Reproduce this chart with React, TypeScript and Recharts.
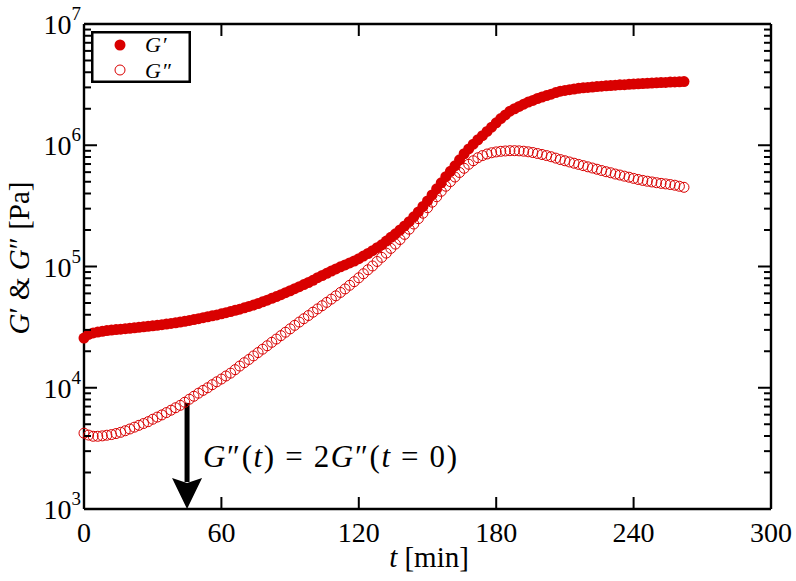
import { Legend, ReferenceLine, Scatter, ScatterChart, XAxis, YAxis } from "recharts";

const RED = "#d90000";
const INK = "#000";
const SERIF = '"Liberation Serif", "Times New Roman", serif';

// plot frame (px)
const PLOT_LEFT = 84;
const PLOT_RIGHT = 771;
const PLOT_TOP = 24;
const PLOT_BOTTOM = 509;

// time [min]
const TIMES = [
  0, 2, 4, 6, 8, 10, 12, 14, 16, 18,
  20, 22, 24, 26, 28, 30, 32, 34, 36, 38,
  40, 42, 44, 46, 48, 50, 52, 54, 56, 58,
  60, 62, 64, 66, 68, 70, 72, 74, 76, 78,
  80, 82, 84, 86, 88, 90, 92, 94, 96, 98,
  100, 102, 104, 106, 108, 110, 112, 114, 116, 118,
  120, 122, 124, 126, 128, 130, 132, 134, 136, 138,
  140, 142, 144, 146, 148, 150, 152, 154, 156, 158,
  160, 162, 164, 166, 168, 170, 172, 174, 176, 178,
  180, 182, 184, 186, 188, 190, 192, 194, 196, 198,
  200, 202, 204, 206, 208, 210, 212, 214, 216, 218,
  220, 222, 224, 226, 228, 230, 232, 234, 236, 238,
  240, 242, 244, 246, 248, 250, 252, 254, 256, 258,
  260, 262,
];

// storage modulus G' [Pa]
const G_PRIME = [
  25700, 27500, 28300, 28800, 29200, 29600, 29900, 30200, 30400, 30700,
  30900, 31200, 31500, 31800, 32100, 32400, 32700, 33100, 33500, 33900,
  34300, 34800, 35300, 35900, 36500, 37100, 37800, 38500, 39200, 39900,
  40700, 41600, 42500, 43500, 44500, 45600, 46800, 48100, 49500, 51100,
  52700, 54600, 56500, 58600, 60800, 63100, 65600, 68200, 71000, 73800,
  76900, 80900, 84300, 87900, 91600, 95500, 99300, 103000, 107000, 111000,
  116000, 122000, 128000, 135000, 143000, 151000, 162000, 174000, 186000, 200000,
  216000, 234000, 257000, 282000, 313000, 347000, 389000, 437000, 490000, 550000,
  610000, 676000, 759000, 851000, 933000, 1020000, 1110000, 1200000, 1300000, 1410000,
  1530000, 1660000, 1780000, 1910000, 2000000, 2090000, 2180000, 2270000, 2340000, 2430000,
  2500000, 2570000, 2640000, 2720000, 2790000, 2830000, 2870000, 2910000, 2950000, 2980000,
  3000000, 3020000, 3050000, 3070000, 3090000, 3110000, 3130000, 3150000, 3160000, 3180000,
  3200000, 3210000, 3230000, 3240000, 3260000, 3270000, 3290000, 3300000, 3320000, 3330000,
  3340000, 3350000,
];

// loss modulus G'' [Pa]
const G_DOUBLE_PRIME = [
  4220, 4070, 3980, 3980, 4010, 4060, 4110, 4190, 4290, 4420,
  4570, 4730, 4900, 5070, 5250, 5500, 5730, 5970, 6240, 6530,
  6840, 7160, 7590, 8040, 8510, 9020, 9510, 10000, 10600, 11200,
  11800, 12500, 13200, 14100, 15100, 16100, 17100, 18300, 19500, 20800,
  22200, 23700, 25200, 26900, 28700, 30600, 32700, 34800, 37100, 39400,
  42000, 44700, 47500, 50600, 53800, 57300, 61100, 65300, 70000, 75000,
  80700, 87100, 94000, 101000, 110000, 119000, 129000, 141000, 153000, 167000,
  184000, 203000, 224000, 248000, 275000, 305000, 339000, 376000, 417000, 459000,
  501000, 547000, 596000, 646000, 697000, 745000, 789000, 822000, 847000, 867000,
  881000, 891000, 897000, 902000, 902000, 899000, 893000, 883000, 871000, 855000,
  839000, 822000, 804000, 783000, 762000, 745000, 728000, 711000, 695000, 679000,
  664000, 649000, 634000, 619000, 605000, 593000, 579000, 568000, 556000, 545000,
  533000, 522000, 513000, 505000, 498000, 491000, 485000, 480000, 474000, 468000,
  459000, 450000,
];

const X_TICKS = [0, 60, 120, 180, 240, 300];
const Y_DECADES = [1000, 10000, 100000, 1000000, 10000000];
const Y_MINOR_STEPS = [2, 3, 4, 5, 6, 7, 8, 9];
const Y_TICKS = [
  ...Y_DECADES,
  ...Y_DECADES.slice(0, -1).flatMap((d) => Y_MINOR_STEPS.map((s) => d * s)),
];

// annotation: G''(t) = 2 G''(t = 0)
const ANNOT_T = 45;
const ANNOT_TOP = 7500;

const gPrimeData = TIMES.map((t, i) => ({ t, v: G_PRIME[i] }));
const gDoublePrimeData = TIMES.map((t, i) => ({ t, v: G_DOUBLE_PRIME[i] }));

function YTick({ y, payload }: any) {
  const lg = Math.log10(payload.value);
  const exp = Math.round(lg);
  const major = Math.abs(lg - exp) < 1e-6;
  const len = major ? 13 : 7;
  return (
    <g>
      <line x1={PLOT_LEFT} x2={PLOT_LEFT + len} y1={y} y2={y} stroke={INK} strokeWidth={2} />
      <line x1={PLOT_RIGHT} x2={PLOT_RIGHT - len} y1={y} y2={y} stroke={INK} strokeWidth={2} />
      {major && (
        <text x={81} y={y + 10} textAnchor="end" fontFamily={SERIF} fontSize={28} fill={INK}>
          10
          <tspan fontSize={19} dy={-14}>
            {exp}
          </tspan>
        </text>
      )}
    </g>
  );
}

function XTick({ x, payload }: any) {
  return (
    <g>
      <line x1={x} x2={x} y1={PLOT_BOTTOM} y2={PLOT_BOTTOM - 12} stroke={INK} strokeWidth={2} />
      <line x1={x} x2={x} y1={PLOT_TOP} y2={PLOT_TOP + 12} stroke={INK} strokeWidth={2} />
      <text x={x} y={PLOT_BOTTOM + 33} textAnchor="middle" fontFamily={SERIF} fontSize={28} fill={INK}>
        {payload.value}
      </text>
    </g>
  );
}

function XTitle() {
  return (
    <text x={429} y={567} textAnchor="middle" fontFamily={SERIF} fontSize={29} fill={INK}>
      <tspan fontStyle="italic">t</tspan> [min]
    </text>
  );
}

function YTitle() {
  return (
    <text
      x={29}
      y={258}
      transform="rotate(-90, 29, 258)"
      textAnchor="middle"
      fontFamily={SERIF}
      fontSize={29}
      fill={INK}
    >
      <tspan fontStyle="italic">G</tspan>′ &amp; <tspan fontStyle="italic">G</tspan>″ [Pa]
    </text>
  );
}

function Arrow({ x1, y1, y2 }: any) {
  const headLen = 31;
  const yb = y2 - headLen;
  return (
    <g>
      <rect x={x1 - 2.5} y={y1} width={5} height={yb - y1 + 4} fill={INK} />
      <polygon
        points={`${x1 - 15},${yb} ${x1},${yb + 5} ${x1 + 15},${yb} ${x1},${y2}`}
        fill={INK}
      />
      <text x={x1 + 16} y={y1 + 64} fontFamily={SERIF} fontSize={31} fill={INK} textLength={254}>
        <tspan fontStyle="italic">G</tspan>″(<tspan fontStyle="italic">t</tspan>) = 2
        <tspan fontStyle="italic">G</tspan>″(<tspan fontStyle="italic">t</tspan> = 0)
      </text>
    </g>
  );
}

function LegendBox() {
  return (
    <svg width={100} height={52} style={{ display: "block", overflow: "visible" }}>
      <rect x={1.25} y={1.25} width={97.5} height={49.5} fill="#fff" stroke={INK} strokeWidth={2.5} />
      <circle cx={29} cy={14} r={5.5} fill={RED} />
      <text x={54} y={21} fontFamily={SERIF} fontSize={22} fill={INK}>
        <tspan fontStyle="italic">G</tspan>
        <tspan dx={2}>′</tspan>
      </text>
      <circle cx={29} cy={39} r={5} fill="none" stroke={RED} strokeWidth={1} />
      <text x={54} y={47} fontFamily={SERIF} fontSize={22} fill={INK}>
        <tspan fontStyle="italic">G</tspan>
        <tspan dx={2}>″</tspan>
      </text>
    </svg>
  );
}

const filledDot = (p: any) => <circle cx={p.cx} cy={p.cy} r={5.5} fill={RED} />;
const openDot = (p: any) => (
  <circle cx={p.cx} cy={p.cy} r={5} fill="none" stroke={RED} strokeWidth={1} />
);

export default function App() {
  return (
    <div style={{ position: "absolute", left: 0, top: 0, width: 796, height: 581, background: "#fff" }}>
      <ScatterChart width={796} height={581} margin={{ top: PLOT_TOP, right: 796 - PLOT_RIGHT, bottom: 0, left: 0 }}>
        <XAxis
          type="number"
          dataKey="t"
          domain={[0, 300]}
          ticks={X_TICKS}
          interval={0}
          height={581 - PLOT_BOTTOM}
          axisLine={{ stroke: INK, strokeWidth: 2.4 }}
          tickLine={false}
          tick={<XTick />}
          label={<XTitle />}
        />
        <YAxis
          type="number"
          dataKey="v"
          scale="log"
          domain={[1000, 10000000]}
          ticks={Y_TICKS}
          interval={0}
          width={PLOT_LEFT}
          axisLine={{ stroke: INK, strokeWidth: 2.4 }}
          tickLine={false}
          tick={<YTick />}
          label={<YTitle />}
        />
        <ReferenceLine y={10000000} stroke={INK} strokeWidth={2.4} />
        <ReferenceLine x={300} stroke={INK} strokeWidth={2.4} />
        <Scatter name="G′" data={gPrimeData} fill={RED} shape={filledDot} isAnimationActive={false} />
        <Scatter name="G″" data={gDoublePrimeData} fill={RED} shape={openDot} isAnimationActive={false} />
        <ReferenceLine
          segment={[
            { x: ANNOT_T, y: ANNOT_TOP },
            { x: ANNOT_T, y: 1000 },
          ]}
          shape={Arrow}
        />
        <Legend
          layout="vertical"
          align="center"
          verticalAlign="middle"
          wrapperStyle={{ position: "absolute", left: 91, top: 31, width: 100, height: 52 }}
          content={() => <LegendBox />}
        />
      </ScatterChart>
    </div>
  );
}
